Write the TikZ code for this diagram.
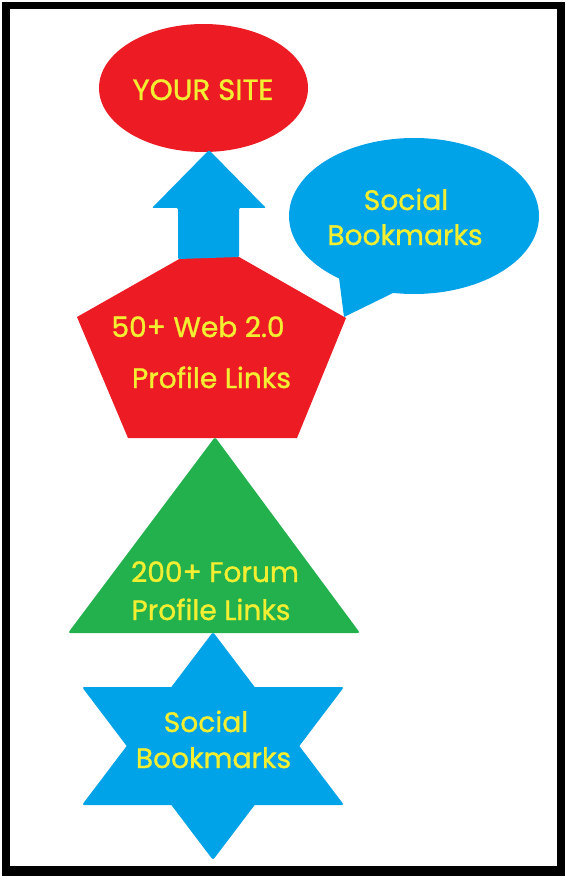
\documentclass[tikz,border=0pt]{standalone}
\usepackage{fontspec}
\setmainfont{Poppins}
\newfontfamily\labelfont{Poppins}[FakeBold=1.1]
\definecolor{paintred}{HTML}{ED1C24}
\definecolor{paintblue}{HTML}{00A2E8}
\definecolor{paintgreen}{HTML}{22B14C}
\definecolor{labelyellow}{HTML}{F2EE32}

\begin{document}
\begin{tikzpicture}[x=0.03cm, y=-0.03cm,
      shapelabel/.style={anchor=base, inner sep=0pt, text=labelyellow, font=\labelfont\fontsize{24}{28}\selectfont}]
    \useasboundingbox (0,0) rectangle (565,876);

    % frame
    \fill[black] (2,2) rectangle (565,876);
    \fill[white] (10,9) rectangle (557,866);

    % pentagon, its apex is hidden under the arrow
    \fill[paintred] (211,241) -- (346,318) -- (297,438) -- (128,438) -- (77,317) -- cycle;
    \fill[paintred] (203.5,88) ellipse [x radius=104.5, y radius=64];
    \fill[paintblue, rounded corners=1pt] (209,150) -- (266,208) -- (239,208) -- (239,257)
      -- (178,259) -- (178,208) -- (152,208) -- cycle;

    % speech bubble
    \fill[paintblue] (414,216) ellipse [x radius=125, y radius=78];
    \fill[paintblue] (337,262) -- (344,317) -- (393,293) -- (390,270) -- cycle;

    % triangle and star
    \fill[paintgreen, rounded corners=2pt] (215,437) -- (360,633) -- (68,633) -- cycle;
    \fill[paintblue, rounded corners=2pt] (213,632) -- (344,805) -- (82,805) -- cycle;
    \fill[paintblue, rounded corners=2pt] (82,687) -- (344,687) -- (213,860) -- cycle;

    % labels
    \node[shapelabel, font=\labelfont\fontsize{25}{28}\selectfont] (site) at (203,100) {YOUR SITE};
    \node[shapelabel] (bubble1) at (406,210) {Social};
    \node[shapelabel] (bubble2) at (405,245) {Bookmarks};
    \node[shapelabel] (web1) at (198,337) {50+ Web 2.0};
    \node[shapelabel] (web2) at (211.5,388) {Profile Links};
    \node[shapelabel] (forum1) at (215,582) {200+ Forum};
    \node[shapelabel] (forum2) at (211,620) {Profile Links};
    \node[shapelabel] (star1) at (206,732) {Social};
    \node[shapelabel] (star2) at (213.5,768) {Bookmarks};
  \end{tikzpicture}
\end{document}
